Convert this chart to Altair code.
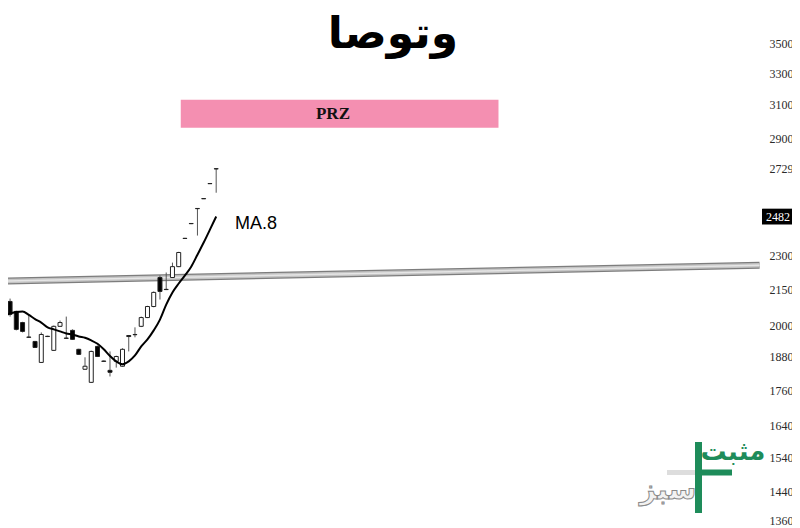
import altair as alt
import pandas as pd

# ---------------- data ----------------
candle_idx = list(range(35))
opens = [2045, 2098, 2057, 2012, 1955, 1938, 1859, 1958, 1904, 1997, 1951, 1981, 1908, 1834, 1787, 1919, 1864, 1830,
         1863, 1845, 1961, 1965, 1997, 2032, 2077, 2200, 2149, 2200, 2248, 2378, 2449, 2523, 2573, 2651, 2730]
highs = [2053, 2110, 2060, 2015, 2045, 1940, 1973, 1960, 2000, 2020, 2036, 1985, 1910, 1878, 1903, 1922, 1866, 1900,
         1884, 1912, 1963, 1993, 2036, 2080, 2140, 2209, 2222, 2266, 2315, 2380, 2451, 2524, 2574, 2652, 2731]
lows = [2012, 2036, 1981, 1973, 1952, 1913, 1857, 1955, 1902, 1995, 1948, 1944, 1887, 1832, 1785, 1879, 1861, 1808,
        1840, 1843, 1900, 1954, 1994, 2030, 2074, 2106, 2146, 2198, 2246, 2375, 2446, 2391, 2571, 2649, 2603]
closes = [2024, 2045, 1985, 1977, 1954, 1915, 1965, 1957, 1997, 2012, 1950, 1946, 1889, 1845, 1900, 1881, 1863, 1823,
          1881, 1908, 1957, 1964, 2032, 2077, 2136, 2140, 2148, 2248, 2312, 2377, 2448, 2522, 2572, 2650, 2729]
ma8 = [2036, 2049, 2055, 2057, 2043, 2026, 2012, 1993, 1985, 1977, 1969, 1965, 1957, 1952, 1942, 1929, 1908, 1883,
       1863, 1852, 1863, 1885, 1919, 1946, 1981, 2024, 2085, 2136, 2174, 2209, 2248, 2302, 2358, 2419, 2483]

trend_idx = [0, 121]
trend_price = [2185, 2254]

axis_ticks = [3500, 3300, 3100, 2900, 2729, 2300, 2150, 2000, 1880, 1760, 1640, 1540, 1440, 1360]

last_price = [2482]
last_box = [2444, 2522]

prz_idx = [28.33, 79.2]
prz_price = [2961, 3130]
prz_label = ["PRZ"]
prz_label_pos = [52.7, 3044]

title_text = ["وتوصا"]
title_pos = [62.3, 3556]

ma_label = ["MA.8"]
ma_label_pos = [37.0, 2448]

logo_top = ["مثبت"]
logo_bottom = ["سبز"]

# ---------------- tables ----------------
candles = pd.DataFrame({"i": candle_idx, "open": opens, "high": highs, "low": lows, "close": closes})
ma_df = pd.DataFrame({"i": candle_idx, "ma": ma8})
trend_df = pd.DataFrame({"i": trend_idx, "p": trend_price})
prz_df = pd.DataFrame({"x0": [prz_idx[0]], "x1": [prz_idx[1]], "y0": [prz_price[0]], "y1": [prz_price[1]],
                       "tx": [prz_label_pos[0]], "ty": [prz_label_pos[1]], "label": prz_label})
title_df = pd.DataFrame({"x": [title_pos[0]], "y": [title_pos[1]], "label": title_text})
malab_df = pd.DataFrame({"x": [ma_label_pos[0]], "y": [ma_label_pos[1]], "label": ma_label})
last_df = pd.DataFrame({"p": last_price, "y0": [last_box[0]], "y1": [last_box[1]], "label": [str(last_price[0])]})
logo_df = pd.DataFrame({"top": logo_top, "bottom": logo_bottom})

W, H = 752, 512
xs = alt.Scale(domain=[1.47, 120.27], nice=False, zero=False)
ys = alt.Scale(type="log", domain=[1360, 3755], nice=False)

yaxis = alt.Axis(orient="right", values=axis_ticks, format="d", labelFont="Liberation Serif", labelFontSize=12,
                 labelColor="#2a2a2a", domain=False, ticks=False, grid=False, labelPadding=9,
                 labelOverlap=False, labelAlign="left", labelBaseline="middle")


def X(f):
    return alt.X(f, type="quantitative", scale=xs, axis=None)


def Y(f):
    return alt.Y(f, type="quantitative", scale=ys, axis=yaxis, title=None)


band1 = alt.Chart(trend_df).mark_line(color="#7d7d7d", strokeWidth=7, clip=True).encode(x=X("i"), y=Y("p"))
band2 = alt.Chart(trend_df).mark_line(color="#c4c4c4", strokeWidth=4.5, clip=True).encode(x=X("i"), y=Y("p"))
band3 = alt.Chart(trend_df).mark_line(color="#e6e6e6", strokeWidth=1.5, clip=True).encode(x=X("i"), y=Y("p"))

prz_rect = alt.Chart(prz_df).mark_rect(color="#f48fb1").encode(x=X("x0"), x2="x1", y=Y("y0"), y2="y1")
prz_text = alt.Chart(prz_df).mark_text(font="Liberation Serif", fontWeight="bold", fontSize=17, color="#111111",
                                       baseline="middle").encode(x=X("tx"), y=Y("ty"), text="label")

wicks = alt.Chart(candles).mark_rule(color="#555555", strokeWidth=1, clip=True).encode(
    x=X("i"), y=Y("low"), y2="high")
bodies = alt.Chart(candles).mark_bar(size=4, stroke="#222222", strokeWidth=1, clip=True).encode(
    x=X("i"), y=Y("open"), y2="close",
    fill=alt.condition("datum.close >= datum.open", alt.value("white"), alt.value("black")))

ma_line = alt.Chart(ma_df).mark_line(color="black", strokeWidth=2, interpolate="monotone", clip=True).encode(
    x=X("i"), y=Y("ma"))

ma_text = alt.Chart(malab_df).mark_text(font="Liberation Sans", fontSize=18, color="black", align="left",
                                        baseline="middle").encode(x=X("x"), y=Y("y"), text="label")

title = alt.Chart(title_df).mark_text(font="DejaVu Sans", fontWeight="bold", fontSize=44, color="black",
                                      align="center", baseline="middle").encode(x=X("x"), y=Y("y"), text="label")

last_rect = alt.Chart(last_df).mark_rect(color="black").encode(x=alt.value(754), x2=alt.value(786),
                                                              y=Y("y0"), y2="y1")
last_text = alt.Chart(last_df).mark_text(font="Liberation Serif", fontSize=12, color="white", align="center",
                                         baseline="middle").encode(x=alt.value(770), y=Y("p"), text="label")

green = "#1e8c5a"
logo_v = alt.Chart(logo_df).mark_rule(color=green, strokeWidth=7).encode(
    x=alt.value(690.5), y=alt.value(434), y2=alt.value(505))
logo_h = alt.Chart(logo_df).mark_rule(color=green, strokeWidth=6).encode(
    x=alt.value(694), x2=alt.value(724), y=alt.value(464.5))
logo_g = alt.Chart(logo_df).mark_rule(color="#dddddd", strokeWidth=5).encode(
    x=alt.value(659), x2=alt.value(687), y=alt.value(464.5))
logo_t1 = alt.Chart(logo_df).mark_text(font="DejaVu Sans", fontWeight="bold", fontSize=26, color=green,
                                       align="center", baseline="middle").encode(
    x=alt.value(725), y=alt.value(444), text="top")
logo_t2 = alt.Chart(logo_df).mark_text(font="DejaVu Sans", fontWeight="bold", fontSize=28, fill="#f2f2f2",
                                       stroke="#8a8a8a", strokeWidth=1, align="center", baseline="middle").encode(
    x=alt.value(660), y=alt.value(483), text="bottom")

chart = alt.layer(
    band1, band2, band3, prz_rect, prz_text, wicks, bodies, ma_line, ma_text, title,
    last_rect, last_text, logo_g, logo_v, logo_h, logo_t1, logo_t2
).properties(
    width=W, height=H,
    padding={"left": 0, "top": 0, "right": 32, "bottom": 8},
    autosize=alt.AutoSizeParams(type="none"),
    background="white",
).configure_view(strokeOpacity=0)

chart.save("out.html", embed_options={"renderer": "svg", "actions": False})
